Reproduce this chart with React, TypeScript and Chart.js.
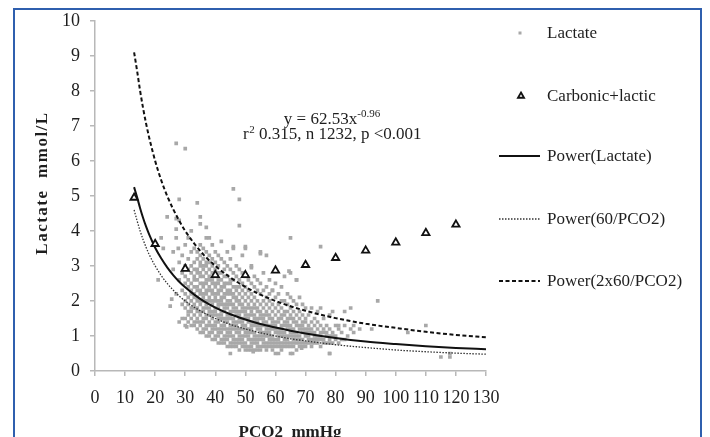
import React, { useEffect, useRef } from 'react';
import { Chart, registerables } from 'chart.js';

Chart.register(...registerables);

// ---- Axis ticks ----
const xTickValues = [0, 10, 20, 30, 40, 50, 60, 70, 80, 90, 100, 110, 120, 130];
const yTickValues = [0, 1, 2, 3, 4, 5, 6, 7, 8, 9, 10];

// ---- Carbonic + lactic (triangles) ----
const carbonicPCO2 = [13, 20, 30, 40, 50, 60, 70, 80, 90, 100, 110, 120];
const carbonicLactic = [4.95, 3.63, 2.92, 2.74, 2.74, 2.87, 3.03, 3.23, 3.44, 3.67, 3.94, 4.18];

// ---- Trend lines ----
const trendPCO2 = [13, 14, 15, 16, 17, 18, 20, 22, 24, 26, 28, 30, 33, 36, 40, 45, 50, 55, 60, 65, 70, 80, 90, 100, 110, 120, 130];
const powerLactate = [5.25, 4.96, 4.65, 4.37, 4.12, 3.9, 3.52, 3.22, 2.96, 2.74, 2.55, 2.39, 2.18, 2.0, 1.81, 1.62, 1.47, 1.34, 1.24, 1.15, 1.07, 0.94, 0.84, 0.77, 0.71, 0.66, 0.62];
const power60 = [4.6, 4.29, 4.0, 3.75, 3.53, 3.33, 3.0, 2.73, 2.5, 2.31, 2.14, 2.0, 1.82, 1.67, 1.5, 1.33, 1.2, 1.09, 1.0, 0.92, 0.86, 0.75, 0.67, 0.6, 0.55, 0.51, 0.48];
const power120 = [9.1, 8.57, 8.0, 7.5, 7.06, 6.67, 6.0, 5.45, 5.0, 4.62, 4.29, 4.0, 3.64, 3.33, 3.0, 2.67, 2.4, 2.18, 2.0, 1.85, 1.72, 1.51, 1.35, 1.23, 1.12, 1.03, 0.96];

// ---- Lactate scatter: PCO2 column -> lactate values ----
const lactateColumns: [number, number[]][] = [
  [26, [2.9, 3.4]],
  [27, [2.2, 3.8]],
  [28, [1.4, 2.6, 3.1, 4.3]],
  [29, [1.5, 1.9, 2.3, 2.8, 3.3]],
  [30, [1.3, 1.5, 1.8, 2.0, 2.2, 2.5, 2.7, 3.0, 3.6]],
  [31, [1.4, 1.6, 1.7, 1.9, 2.1, 2.4, 2.6, 2.9, 3.2, 3.8]],
  [32, [1.3, 1.5, 1.7, 1.8, 2.0, 2.2, 2.3, 2.5, 2.8, 3.0, 3.4]],
  [33, [1.3, 1.4, 1.6, 1.8, 1.9, 2.1, 2.2, 2.4, 2.6, 2.7, 2.9, 3.1, 3.5]],
  [34, [1.2, 1.4, 1.5, 1.7, 1.8, 2.0, 2.1, 2.3, 2.4, 2.6, 2.8, 2.9, 3.2, 3.4]],
  [35, [1.1, 1.3, 1.4, 1.6, 1.7, 1.9, 2.0, 2.2, 2.3, 2.5, 2.7, 2.8, 3.0, 3.1, 3.3, 3.6]],
  [36, [1.1, 1.2, 1.4, 1.5, 1.7, 1.8, 2.0, 2.1, 2.2, 2.4, 2.5, 2.7, 2.9, 3.0, 3.2, 3.5]],
  [37, [1.0, 1.2, 1.3, 1.5, 1.6, 1.8, 1.9, 2.0, 2.2, 2.3, 2.5, 2.6, 2.8, 3.0, 3.1, 3.4, 3.8]],
  [38, [1.0, 1.1, 1.3, 1.4, 1.6, 1.7, 1.8, 2.0, 2.1, 2.3, 2.4, 2.6, 2.7, 2.9, 3.1, 3.3]],
  [39, [0.9, 1.1, 1.2, 1.3, 1.5, 1.6, 1.7, 1.9, 2.0, 2.2, 2.3, 2.5, 2.6, 2.8, 3.0, 3.2, 3.6]],
  [40, [0.9, 1.0, 1.2, 1.3, 1.4, 1.6, 1.7, 1.8, 2.0, 2.1, 2.2, 2.4, 2.5, 2.7, 2.9, 3.1, 3.4]],
  [41, [0.8, 1.0, 1.1, 1.2, 1.4, 1.5, 1.6, 1.8, 1.9, 2.0, 2.2, 2.3, 2.5, 2.6, 2.8, 3.0, 3.3]],
  [42, [0.8, 0.9, 1.1, 1.2, 1.3, 1.5, 1.6, 1.7, 1.9, 2.0, 2.1, 2.3, 2.4, 2.6, 2.8, 3.2, 3.7]],
  [43, [0.8, 0.9, 1.0, 1.2, 1.3, 1.4, 1.5, 1.7, 1.8, 1.9, 2.1, 2.2, 2.4, 2.5, 2.7, 2.9, 3.1]],
  [44, [0.7, 0.9, 1.0, 1.1, 1.2, 1.4, 1.5, 1.6, 1.8, 1.9, 2.0, 2.2, 2.3, 2.5, 2.7, 3.0, 3.4]],
  [45, [0.5, 0.7, 0.8, 1.0, 1.1, 1.2, 1.3, 1.5, 1.6, 1.7, 1.9, 2.0, 2.2, 2.3, 2.5, 2.6, 2.9, 3.2]],
  [46, [0.7, 0.8, 0.9, 1.0, 1.2, 1.3, 1.4, 1.5, 1.7, 1.8, 1.9, 2.1, 2.2, 2.4, 2.6, 2.8, 3.5]],
  [47, [0.7, 0.8, 0.9, 1.1, 1.2, 1.3, 1.4, 1.6, 1.7, 1.8, 2.0, 2.1, 2.3, 2.4, 2.7, 3.0]],
  [48, [0.6, 0.8, 0.9, 1.0, 1.1, 1.2, 1.4, 1.5, 1.6, 1.7, 1.9, 2.0, 2.2, 2.4, 2.6, 2.9]],
  [49, [0.7, 0.8, 0.9, 1.0, 1.2, 1.3, 1.4, 1.5, 1.7, 1.8, 1.9, 2.1, 2.3, 2.5, 2.8, 3.3]],
  [50, [0.6, 0.7, 0.8, 1.0, 1.1, 1.2, 1.3, 1.5, 1.6, 1.7, 1.8, 2.0, 2.2, 2.4, 2.7, 3.5]],
  [51, [0.6, 0.7, 0.9, 1.0, 1.1, 1.2, 1.4, 1.5, 1.6, 1.8, 1.9, 2.1, 2.3, 2.6]],
  [52, [0.6, 0.7, 0.8, 0.9, 1.1, 1.2, 1.3, 1.4, 1.6, 1.7, 1.8, 2.0, 2.2, 2.5, 3.0]],
  [53, [0.6, 0.8, 0.9, 1.0, 1.1, 1.3, 1.4, 1.5, 1.6, 1.8, 1.9, 2.1, 2.4, 2.7]],
  [54, [0.6, 0.7, 0.8, 0.9, 1.0, 1.2, 1.3, 1.4, 1.5, 1.7, 1.8, 2.0, 2.3, 2.6]],
  [55, [0.6, 0.7, 0.9, 1.0, 1.1, 1.2, 1.3, 1.5, 1.6, 1.7, 1.9, 2.2, 2.5, 3.4]],
  [56, [0.7, 0.8, 0.9, 1.0, 1.1, 1.3, 1.4, 1.5, 1.6, 1.8, 2.0, 2.3, 2.8]],
  [57, [0.6, 0.7, 0.8, 1.0, 1.1, 1.2, 1.3, 1.4, 1.6, 1.7, 1.9, 2.1, 2.4, 3.3]],
  [58, [0.7, 0.8, 0.9, 1.0, 1.1, 1.2, 1.3, 1.5, 1.6, 1.8, 2.0, 2.2, 2.6]],
  [59, [0.6, 0.7, 0.8, 0.9, 1.0, 1.2, 1.3, 1.4, 1.5, 1.7, 1.9, 2.3]],
  [60, [0.5, 0.7, 0.8, 0.9, 1.1, 1.2, 1.3, 1.4, 1.6, 1.8, 2.1, 2.5]],
  [61, [0.7, 0.8, 0.9, 1.0, 1.1, 1.2, 1.4, 1.5, 1.7, 1.9, 2.2]],
  [62, [0.6, 0.7, 0.8, 1.0, 1.1, 1.2, 1.3, 1.5, 1.6, 1.8, 2.0, 2.4]],
  [63, [0.7, 0.8, 0.9, 1.0, 1.1, 1.3, 1.4, 1.6, 1.7, 2.0, 2.7]],
  [64, [0.7, 0.8, 0.9, 1.0, 1.2, 1.3, 1.4, 1.5, 1.7, 1.9, 2.2]],
  [65, [0.5, 0.7, 0.8, 1.0, 1.1, 1.2, 1.3, 1.5, 1.6, 1.8, 2.1, 2.8, 3.8]],
  [66, [0.7, 0.8, 0.9, 1.0, 1.1, 1.2, 1.4, 1.5, 1.7, 2.0]],
  [67, [0.6, 0.8, 0.9, 1.0, 1.1, 1.3, 1.4, 1.6, 1.9, 2.6]],
  [68, [0.7, 0.8, 0.9, 1.0, 1.2, 1.3, 1.5, 1.7, 2.1]],
  [69, [0.7, 0.8, 0.9, 1.1, 1.2, 1.3, 1.4, 1.6, 1.9]],
  [70, [0.7, 0.8, 1.0, 1.1, 1.2, 1.4, 1.5, 1.8]],
  [71, [0.8, 0.9, 1.0, 1.1, 1.2, 1.3, 1.6]],
  [72, [0.7, 0.8, 0.9, 1.1, 1.2, 1.4, 1.8]],
  [73, [0.8, 0.9, 1.0, 1.1, 1.3, 1.5]],
  [74, [0.8, 0.9, 1.0, 1.2, 1.4, 1.7]],
  [75, [0.7, 0.9, 1.0, 1.1, 1.3, 1.8, 3.55]],
  [76, [0.8, 0.9, 1.1, 1.2, 1.5]],
  [77, [0.8, 1.0, 1.1, 1.3]],
  [78, [0.5, 0.8, 0.9, 1.0, 1.2, 1.6]],
  [79, [0.8, 1.0, 1.1, 1.7]],
  [80, [0.9, 1.0, 1.3]],
  [81, [0.8, 1.2, 1.3]],
  [82, [0.9, 1.1]],
  [83, [0.9, 1.3, 1.7]],
  [84, [1.0]],
  [85, [1.2, 1.8]],
  [86, [1.1, 1.3]],
  [88, [1.2]],
  [92, [1.2]],
  [94, [2.0]],
  [104, [1.1]],
  [110, [1.3]],
  [115, [0.4]],
  [118, [0.4, 0.5]],
];

const lactateOutlierPCO2 = [27, 30, 46, 48, 28, 34, 24, 27, 35, 35, 37, 27, 32, 22, 38, 48, 46, 50, 55, 52, 64.5, 67, 59, 21, 25.5, 25, 27.7, 22.7, 61, 65.7, 52.6, 68.7, 78, 30.5];
const lactateOutlierValues = [6.5, 6.35, 5.2, 4.9, 4.9, 4.8, 4.4, 4.35, 4.4, 4.2, 4.1, 4.05, 4.0, 3.8, 3.8, 4.15, 3.55, 3.55, 3.35, 2.95, 2.85, 2.6, 2.3, 2.6, 2.05, 1.85, 3.5, 3.5, 0.5, 0.5, 0.55, 0.65, 0.5, 1.26];

const LABELS = {
  lactate: 'Lactate',
  carbonic: 'Carbonic+lactic',
  pLactate: 'Power(Lactate)',
  p60: 'Power(60/PCO2)',
  p120: 'Power(2x60/PCO2)',
};

const FONT = "'Liberation Serif', 'Times New Roman', serif";
const TEXT = '#1e1e1e';

const decorPlugin = {
  id: 'decor',
  afterDraw(chart: any) {
    const ctx: CanvasRenderingContext2D = chart.ctx;
    ctx.save();

    // Blue frame
    ctx.strokeStyle = '#2f5fae';
    ctx.lineWidth = 2;
    ctx.beginPath();
    ctx.moveTo(14, 437);
    ctx.lineTo(14, 9);
    ctx.lineTo(701, 9);
    ctx.lineTo(701, 437);
    ctx.stroke();

    // Axis titles
    ctx.fillStyle = TEXT;
    ctx.font = `bold 17px ${FONT}`;
    ctx.textAlign = 'center';
    ctx.textBaseline = 'alphabetic';
    ctx.fillText('PCO2  mmHg', 290, 437);

    ctx.save();
    ctx.translate(47, 183);
    ctx.rotate(-Math.PI / 2);
    (ctx as any).letterSpacing = '1.5px';
    ctx.fillText('Lactate  mmol/L', 0, 0);
    ctx.restore();

    // Annotation
    ctx.fillStyle = TEXT;
    const cx = 332;
    const big = `17px ${FONT}`;
    const small = `11px ${FONT}`;
    ctx.textAlign = 'left';
    ctx.font = big;
    const l1a = 'y = 62.53x';
    const w1a = ctx.measureText(l1a).width;
    ctx.font = small;
    const l1b = '-0.96';
    const w1b = ctx.measureText(l1b).width;
    let sx = cx - (w1a + w1b) / 2;
    ctx.font = big;
    ctx.fillText(l1a, sx, 124);
    ctx.font = small;
    ctx.fillText(l1b, sx + w1a, 117);

    ctx.font = big;
    const l2a = 'r';
    const l2c = ' 0.315, n 1232, p <0.001';
    const w2a = ctx.measureText(l2a).width;
    const w2c = ctx.measureText(l2c).width;
    ctx.font = small;
    const w2b = ctx.measureText('2').width;
    sx = cx - (w2a + w2b + w2c) / 2;
    ctx.font = big;
    ctx.fillText(l2a, sx, 139);
    ctx.font = small;
    ctx.fillText('2', sx + w2a + 0.5, 133);
    ctx.font = big;
    ctx.fillText(l2c, sx + w2a + w2b + 0.5, 139);

    // Legend
    const ds = chart.data.datasets;
    const legendItems = [
      { i: 0, y: 33 },
      { i: 1, y: 96 },
      { i: 2, y: 156 },
      { i: 3, y: 219 },
      { i: 4, y: 281 },
    ];
    const textX = 547;
    legendItems.forEach(({ i, y }) => {
      const d = ds[i];
      if (d.showLine) {
        ctx.save();
        ctx.strokeStyle = d.borderColor;
        ctx.lineWidth = d.borderWidth;
        ctx.setLineDash(d.borderDash || []);
        ctx.beginPath();
        ctx.moveTo(499, y);
        ctx.lineTo(540, y);
        ctx.stroke();
        ctx.restore();
      } else if (d.pointStyle === 'rect') {
        ctx.fillStyle = d.backgroundColor;
        ctx.fillRect(518.5, y - 1.5, 3, 3);
      } else {
        ctx.save();
        ctx.strokeStyle = d.borderColor;
        ctx.fillStyle = '#fff';
        ctx.lineWidth = d.borderWidth;
        const r = 3.5;
        ctx.beginPath();
        ctx.moveTo(521, y - r);
        ctx.lineTo(521 + r * 0.87, y + r * 0.5);
        ctx.lineTo(521 - r * 0.87, y + r * 0.5);
        ctx.closePath();
        ctx.fill();
        ctx.stroke();
        ctx.restore();
      }
      ctx.fillStyle = TEXT;
      ctx.font = big;
      ctx.textAlign = 'left';
      ctx.textBaseline = 'middle';
      ctx.fillText(d.label, textX, y + 1);
    });

    ctx.restore();
  },
};

export default function App() {
  const canvasRef = useRef<HTMLCanvasElement | null>(null);

  useEffect(() => {
    const canvas = canvasRef.current;
    if (!canvas) return;

    const lactatePoints: { x: number; y: number }[] = [];
    lactateColumns.forEach(([x, ys]) => ys.forEach((y) => lactatePoints.push({ x, y })));
    lactateOutlierPCO2.forEach((x, k) => lactatePoints.push({ x, y: lactateOutlierValues[k] }));

    const toXY = (xs: number[], ys: number[]) => xs.map((x, k) => ({ x, y: ys[k] }));

    const chart = new Chart(canvas, {
      type: 'scatter',
      data: {
        datasets: [
          {
            label: LABELS.lactate,
            data: lactatePoints,
            pointStyle: 'rect',
            pointRadius: 2.6,
            borderWidth: 0,
            backgroundColor: '#a8a8a8',
            borderColor: '#a8a8a8',
            order: 5,
          } as any,
          {
            label: LABELS.carbonic,
            data: toXY(carbonicPCO2, carbonicLactic),
            pointStyle: 'triangle',
            pointRadius: 4.2,
            borderWidth: 1.8,
            borderColor: '#111',
            backgroundColor: '#fff',
            order: 0,
          },
          {
            label: LABELS.pLactate,
            data: toXY(trendPCO2, powerLactate),
            showLine: true,
            pointRadius: 0,
            borderColor: '#111',
            borderWidth: 2,
            cubicInterpolationMode: 'monotone',
            order: 1,
          },
          {
            label: LABELS.p60,
            data: toXY(trendPCO2, power60),
            showLine: true,
            pointRadius: 0,
            borderColor: '#333',
            borderWidth: 1.3,
            borderDash: [1.5, 1.5],
            cubicInterpolationMode: 'monotone',
            order: 2,
          },
          {
            label: LABELS.p120,
            data: toXY(trendPCO2, power120),
            showLine: true,
            pointRadius: 0,
            borderColor: '#111',
            borderWidth: 2,
            borderDash: [4, 2.5],
            cubicInterpolationMode: 'monotone',
            order: 3,
          },
        ],
      },
      options: {
        responsive: false,
        animation: false,
        layout: { padding: { left: 0, top: 19, right: 224, bottom: 0 } },
        plugins: {
          legend: { display: false },
          tooltip: { enabled: false },
        },
        scales: {
          x: {
            type: 'linear',
            min: 0,
            max: 130,
            afterBuildTicks: (scale: any) => {
              scale.ticks = xTickValues.map((v) => ({ value: v }));
            },
            afterFit: (scale: any) => {
              scale.height = 66;
            },
            grid: {
              drawOnChartArea: false,
              drawTicks: true,
              tickLength: 5,
              color: '#b8b8b8',
              lineWidth: 1.5,
            },
            border: { color: '#b8b8b8', width: 1.5 },
            ticks: {
              color: TEXT,
              padding: 11,
              maxRotation: 0,
              autoSkip: false,
              font: { family: FONT, size: 18 },
            },
          },
          y: {
            type: 'linear',
            min: 0,
            max: 10,
            afterBuildTicks: (scale: any) => {
              scale.ticks = yTickValues.map((v) => ({ value: v }));
            },
            afterFit: (scale: any) => {
              scale.width = 95;
            },
            grid: {
              drawOnChartArea: false,
              drawTicks: true,
              tickLength: 5,
              color: '#b8b8b8',
              lineWidth: 1.5,
            },
            border: { color: '#b8b8b8', width: 1.5 },
            ticks: {
              color: TEXT,
              padding: 10,
              autoSkip: false,
              font: { family: FONT, size: 18 },
            },
          },
        },
      },
      plugins: [decorPlugin],
    });

    return () => {
      chart.destroy();
    };
  }, []);

  return (
    <div style={{ position: 'fixed', left: 0, top: 0, width: 710, height: 437, background: '#fff' }}>
      <canvas ref={canvasRef} width={710} height={437} style={{ display: 'block', width: 710, height: 437 }} />
    </div>
  );
}
